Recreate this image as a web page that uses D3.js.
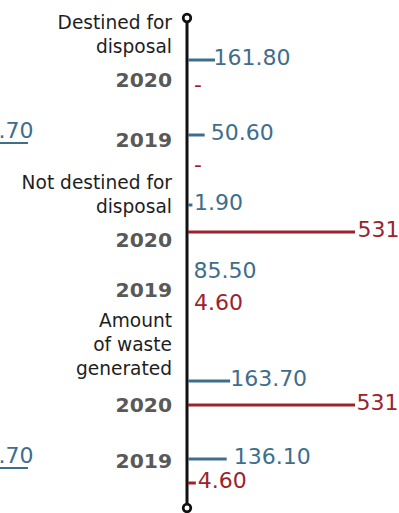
<!DOCTYPE html>
<html><head><meta charset="utf-8">
<script src="https://cdn.jsdelivr.net/npm/d3@7"></script>
<style>html,body{margin:0;padding:0;background:#fff;overflow:hidden}</style>
</head><body><svg id="chart" width="399" height="513"></svg>
<script>
// ---------------- data ----------------
const categories = ["Destined for disposal", "Not destined for disposal", "Amount of waste generated"];
const years = ["2020", "2019"];
// one value per (category, year), order: D2020, D2019, N2020, N2019, A2020, A2019
const blueValues = [161.80, 50.60, 1.90, 85.50, 163.70, 136.10];
const redValues  = [null, null, 531, 4.60, 531, 4.60];
// bar lengths as caught in the picture (the chart is mid-animation), data units
const blueBarShown = [86, 53, 14, 0, 134, 123];
const redBarShown  = [0, 0, 531, 0, 531, 25];
// partially visible labels at the left edge
const edgeLabels = [".70", ".70"];

// ---------------- layout ----------------
const BLUE = "#3e6e8c", RED = "#9b232d";
const svg = d3.select("#chart");
const wrapLines = {
  "Destined for disposal": ["Destined for", "disposal"],
  "Not destined for disposal": ["Not destined for", "disposal"],
  "Amount of waste generated": ["Amount", "of waste", "generated"]
};
const rows = [];
categories.forEach(c => years.forEach(y => rows.push(c + "|" + y)));

const x = d3.scaleLinear().domain([0, 531]).range([188, 355]);
const catTop = d3.scaleOrdinal().domain(categories).range([29, 189, 327]);
const yearY = d3.scaleOrdinal().domain(rows).range([87, 147, 247, 297, 412, 468]);
const blueY = d3.scaleOrdinal().domain(rows).range([60, 135, 205, 273, 381, 459]);
const redY  = d3.scaleOrdinal().domain(rows).range([87, 167, 232, 305, 405, 483]);
const blueGap = d3.scaleOrdinal().domain(rows).range([-1.5, 6, 1.5, 5.5, 0, 7]);
const redGap  = d3.scaleOrdinal().domain(rows).range([6, 6, 2.5, 6, 1.5, 2]);
const edgeRows = [rows[1], rows[5]];
const edgeY = d3.scaleOrdinal().domain(edgeRows).range([138, 463]);

const fmt = v => v == null ? "-" : (Number.isInteger(v) ? String(v) : v.toFixed(2));
const FONT = "DejaVu Sans, sans-serif";

// axis
const axisX = 187;
svg.append("line").attr("x1", axisX).attr("x2", axisX).attr("y1", 18).attr("y2", 508)
  .attr("stroke", "#111").attr("stroke-width", 3);

// category labels
categories.forEach(c => {
  svg.append("g").selectAll("text").data(wrapLines[c]).join("text")
    .attr("x", 172).attr("y", (d, i) => catTop(c) + i * 24)
    .attr("text-anchor", "end").attr("font-family", FONT).attr("font-size", 18.6)
    .attr("fill", "#1e1e1e").text(d => d);
});

// year labels
svg.append("g").selectAll("text").data(rows).join("text")
  .attr("x", 172).attr("y", d => yearY(d))
  .attr("text-anchor", "end").attr("font-family", FONT).attr("font-weight", "bold")
  .attr("font-size", 20.3).attr("fill", "#595959").text(d => d.split("|")[1]);

// marks
const marks = [];
rows.forEach((r, i) => {
  marks.push({row: r, color: BLUE, value: blueValues[i], shown: blueBarShown[i], y: blueY(r), gap: blueGap(r)});
  marks.push({row: r, color: RED, value: redValues[i], shown: redBarShown[i], y: redY(r), gap: redGap(r)});
});

svg.append("g").selectAll("line").data(marks.filter(m => m.shown > 0)).join("line")
  .attr("x1", x(0)).attr("x2", d => x(d.shown))
  .attr("y1", d => d.y).attr("y2", d => d.y)
  .attr("stroke", d => d.color).attr("stroke-width", 3);

svg.append("g").selectAll("text").data(marks).join("text")
  .attr("x", d => x(d.shown) + d.gap).attr("y", d => d.y + 5)
  .attr("font-family", FONT).attr("font-size", 22)
  .attr("fill", d => d.color).text(d => fmt(d.value));

// edge labels (cut by the left border)
const eg = svg.append("g").selectAll("g").data(edgeRows).join("g");
eg.append("text").attr("x", -1.5).attr("y", d => edgeY(d))
  .attr("font-family", FONT).attr("font-size", 22).attr("fill", BLUE)
  .text((d, i) => edgeLabels[i]);
eg.append("line").attr("x1", 0).attr("x2", 28)
  .attr("y1", d => edgeY(d) + 5).attr("y2", d => edgeY(d) + 5)
  .attr("stroke", BLUE).attr("stroke-width", 2);

// end circles
svg.append("g").selectAll("circle").data([18, 508]).join("circle")
  .attr("cx", axisX).attr("cy", d => d).attr("r", 3.8)
  .attr("fill", "#fff").attr("stroke", "#111").attr("stroke-width", 2.7);
</script>
</body></html>
